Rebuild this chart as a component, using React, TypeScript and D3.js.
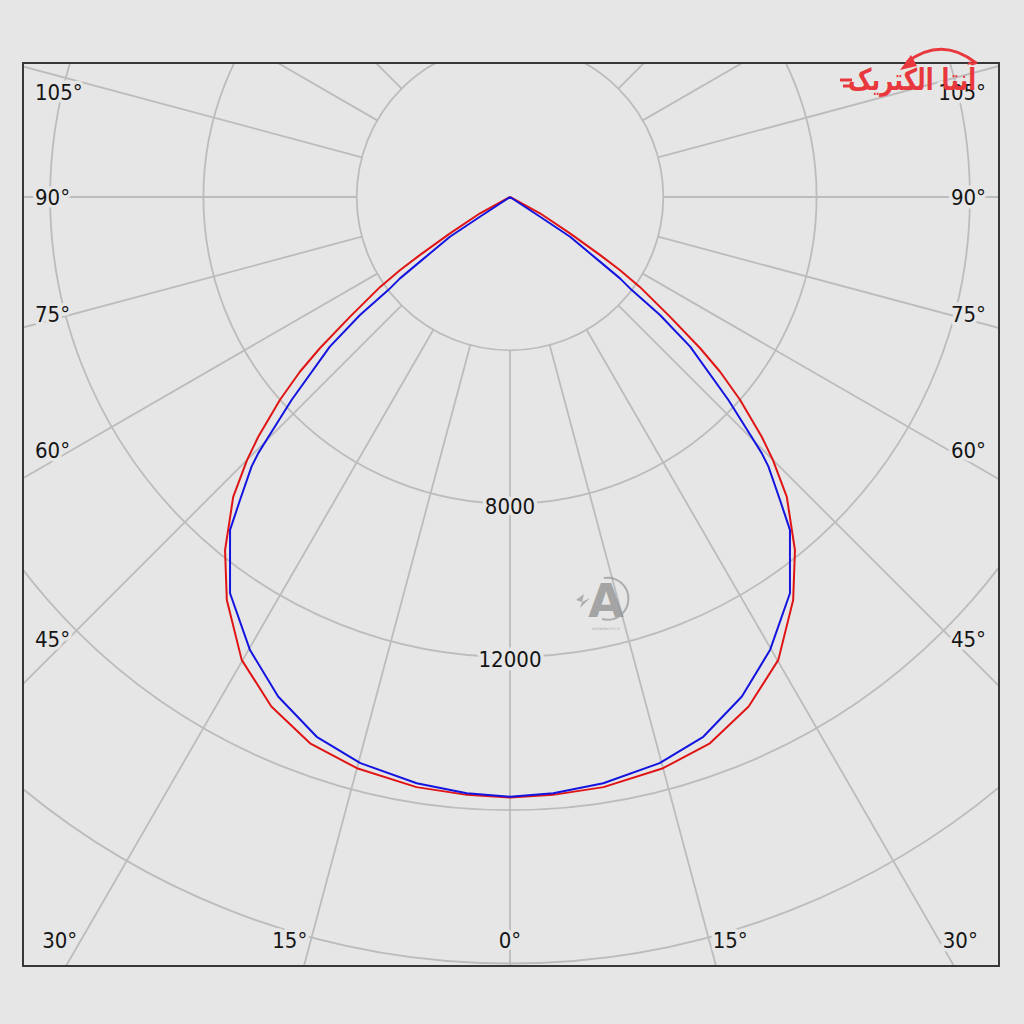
import React from 'react';
import * as d3 from 'd3';

// ---- data ----
const ringValues = [4000, 8000, 12000, 16000, 20000, 24000];
const ringLabelValues = [8000, 12000];
const spokeAngles = d3.range(0, 360, 15);
const sideLabelAngles = [45, 60, 75, 90, 105];
const bottomLabelAngles = [0, 15, 30];

// C0-C180 plane (red), angle from nadir in degrees, intensity in cd
const redAngles = [0, 4.1, 9, 15, 20.1, 25.1, 30.1, 35.1, 38.9, 42.7, 45, 46.4, 48.6, 50.25, 51.5, 53.2, 55.3, 56.4, 57.2, 58.8, 61.5, 65, 90];
const redValues = [15670, 15640, 15590, 15430, 15180, 14680, 13960, 12850, 11840, 10650, 9700, 9070, 8000, 7130, 6340, 5210, 4120, 3440, 2790, 1830, 890, 0, 0];
// C90-C270 plane (blue)
const blueAngles = [0, 4.15, 9.04, 14.8, 19.7, 24.9, 29.85, 35.24, 40.06, 41.7, 43.8, 44.5, 45.2, 47.1, 50.3, 51.8, 52.6, 53.5, 54.3, 56.5, 56.7, 60, 90];
const blueValues = [15650, 15600, 15490, 15280, 14960, 14370, 13630, 12660, 11350, 10590, 9740, 9370, 8880, 7780, 6110, 4980, 4000, 3570, 2890, 1880, 940, 0, 0];

const logoText = 'آنتا الکتریک';
const watermarkText = 'antaelectric.ir';

// ---- layout ----
const W = 1024;
const H = 1024;
const cx = 510;
const cy = 197;
const frame = { x: 23, y: 63, w: 976, h: 903 };
const BG = '#e6e6e6';
const GRID = '#bcbcbc';
const FONT = "'DejaVu Sans Condensed', 'DejaVu Sans', sans-serif";

const rScale = d3.scaleLinear().domain([0, 4000]).range([0, 153.3]);
const rad = (deg: number) => (deg * Math.PI) / 180;

function mirrored(angles: number[], values: number[]) {
  const pts = angles.map((a, i) => ({ a, v: values[i] }));
  const left = pts.slice(1).reverse().map((p) => ({ a: -p.a, v: p.v }));
  return [...left, ...pts];
}

const radialLine = d3
  .lineRadial<{ a: number; v: number }>()
  .angle((d) => Math.PI - rad(d.a))
  .radius((d) => rScale(d.v))
  .curve(d3.curveLinear);

export default function App() {
  const redPath = radialLine(mirrored(redAngles, redValues)) || '';
  const bluePath = radialLine(mirrored(blueAngles, blueValues)) || '';

  const innerR = rScale(ringValues[0]);
  const outerR = 1400;

  const labelStyle = {
    fontFamily: FONT,
    fontSize: 22,
    fill: '#151515',
    stroke: BG,
    strokeWidth: 7,
    paintOrder: 'stroke',
    strokeLinejoin: 'round',
  } as React.CSSProperties;

  // side labels
  const sideDx = cx - 53;
  const sideLabels = sideLabelAngles.map((a) => {
    const t = rad(a);
    let y = cy + (sideDx * Math.cos(t)) / Math.sin(t) - 20 * Math.cos(t);
    y = Math.max(y, frame.y + 29.5);
    return { a, y };
  });

  const bottomY = frame.y + frame.h - 25.5;
  const bottomLabels: { text: string; x: number }[] = [];
  bottomLabelAngles.forEach((a) => {
    const off = a === 0 ? 0 : (bottomY - cy) * Math.tan(rad(a)) + 21;
    bottomLabels.push({ text: `${a}°`, x: cx - off });
    if (a !== 0) bottomLabels.push({ text: `${a}°`, x: cx + off });
  });

  return (
    <svg
      width={W}
      height={H}
      viewBox={`0 0 ${W} ${H}`}
      style={{ position: 'absolute', left: 0, top: 0, display: 'block' }}
    >
      <defs>
        <clipPath id="frameClip">
          <rect x={frame.x} y={frame.y} width={frame.w} height={frame.h} />
        </clipPath>
      </defs>
      <rect x={0} y={0} width={W} height={H} fill={BG} />

      <g clipPath="url(#frameClip)">
        <g transform={`translate(${cx},${cy})`} fill="none" stroke={GRID} strokeWidth={1.8}>
          {ringValues.map((v) => (
            <circle key={v} r={rScale(v)} />
          ))}
          {spokeAngles.map((a) => {
            const t = rad(a);
            return (
              <line
                key={a}
                x1={innerR * Math.sin(t)}
                y1={innerR * Math.cos(t)}
                x2={outerR * Math.sin(t)}
                y2={outerR * Math.cos(t)}
              />
            );
          })}
        </g>

        {/* watermark */}
        <g transform="translate(606,600)" opacity={0.75}>
          <path d="M -2 -22 A 21 21 0 1 1 -4 19" fill="none" stroke="#9a9a9a" strokeWidth={2} />
          <text
            x={0}
            y={17}
            textAnchor="middle"
            style={{ fontFamily: "'DejaVu Sans', sans-serif", fontWeight: 700, fontSize: 46, fill: '#8e8e8e' }}
          >
            A
          </text>
          <path d="M -30 0 L -22 -6 L -24 2 L -16 -2 L -26 8 L -24 2 Z" fill="#9a9a9a" />
          <text
            x={0}
            y={30}
            textAnchor="middle"
            style={{ fontFamily: "'DejaVu Sans', sans-serif", fontSize: 4, fill: '#9a9a9a' }}
          >
            {watermarkText}
          </text>
        </g>

        <g transform={`translate(${cx},${cy})`} fill="none" strokeWidth={2} strokeLinejoin="round">
          <path d={redPath} stroke="#e01414" />
          <path d={bluePath} stroke="#1414e0" />
        </g>
      </g>

      {/* ring labels */}
      {ringLabelValues.map((v) => (
        <text
          key={v}
          x={cx}
          y={cy + rScale(v) + 3}
          textAnchor="middle"
          dominantBaseline="central"
          style={labelStyle}
        >
          {v}
        </text>
      ))}

      {/* side angle labels */}
      {sideLabels.map((l) => (
        <g key={l.a}>
          <text x={frame.x + 12} y={l.y} textAnchor="start" dominantBaseline="central" style={labelStyle}>
            {`${l.a}°`}
          </text>
          <text
            x={frame.x + frame.w - 13}
            y={l.y}
            textAnchor="end"
            dominantBaseline="central"
            style={labelStyle}
          >
            {`${l.a}°`}
          </text>
        </g>
      ))}

      {/* bottom angle labels */}
      {bottomLabels.map((l, i) => (
        <text key={i} x={l.x} y={bottomY} textAnchor="middle" dominantBaseline="central" style={labelStyle}>
          {l.text}
        </text>
      ))}

      <rect
        x={frame.x}
        y={frame.y}
        width={frame.w}
        height={frame.h}
        fill="none"
        stroke="#383838"
        strokeWidth={2}
      />

      {/* logo */}
      <g>
        <path d="M 907 62 Q 942 36 976 63" fill="none" stroke="#e8383d" strokeWidth={3} />
        <path d="M 900 70 L 911 55 L 917 66 Z" fill="#e8383d" />
        <text
          x={912}
          y={90}
          textAnchor="middle"
          style={{ fontFamily: "'DejaVu Sans', sans-serif", fontWeight: 700, fontSize: 30, fill: '#e8383d' }}
          textLength={128}
          lengthAdjust="spacingAndGlyphs"
        >
          {logoText}
        </text>
        <g stroke="#e8383d" strokeWidth={3}>
          <line x1={840} y1={80} x2={852} y2={80} />
          <line x1={843} y1={86} x2={852} y2={86} />
        </g>
      </g>
    </svg>
  );
}
